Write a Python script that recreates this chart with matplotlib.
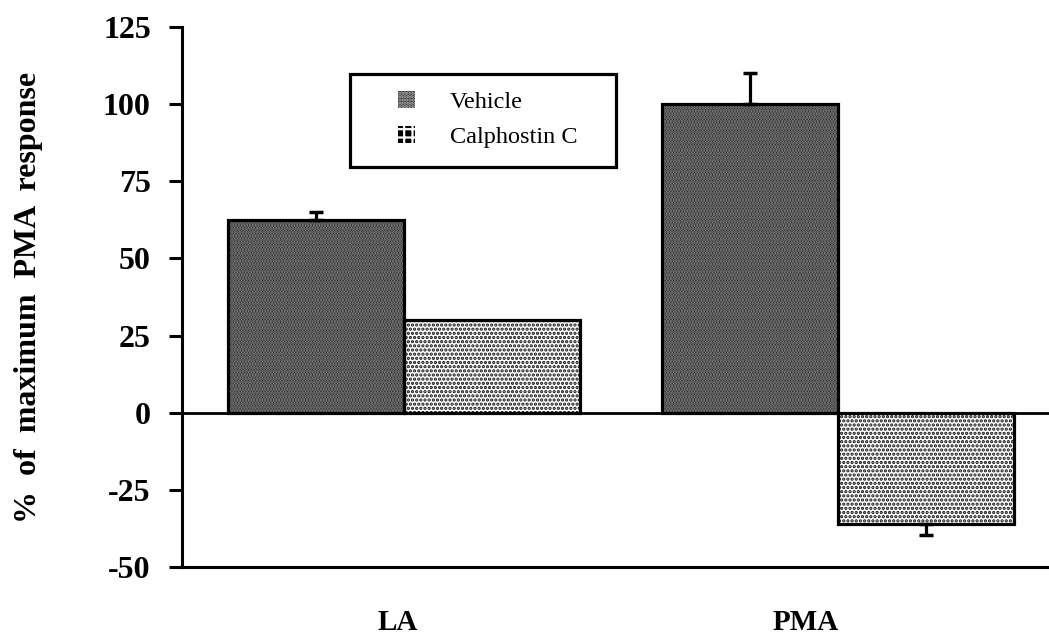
import numpy as np
import matplotlib
matplotlib.use('Agg')
import matplotlib.pyplot as plt
from matplotlib.patches import Patch, Rectangle

plt.rcParams['font.family'] = 'Liberation Serif'
plt.rcParams['axes.unicode_minus'] = False
plt.rcParams['hatch.linewidth'] = 1.6

categories = ['LA', 'PMA']
series = ['Vehicle', 'Calphostin C']
vehicle = [62.5, 100.0]
vehicle_err = [2.5, 10.0]
calphostin = [30.0, -36.0]
calphostin_err = [0.0, 3.5]
label_shift = [-0.015, -0.075]   # category labels sit a bit left of the group centres

fig = plt.figure(figsize=(10.49, 6.32), dpi=100)
ax = fig.add_axes([0.1735, 0.103, 0.8265, 0.854])

x = np.arange(len(categories))
width = 0.405

veh_style = dict(facecolor='#101010', hatch='......', edgecolor='#959595', linewidth=0)
cal_style = dict(facecolor='white', hatch='....', edgecolor='#111111', linewidth=0)

# fill with dotted screen first, black outline on top
ax.bar(x - width / 2, vehicle, width, zorder=2, **veh_style)
ax.bar(x + width / 2, calphostin, width, zorder=2, **cal_style)
ax.bar(x - width / 2, vehicle, width, fill=False, edgecolor='black', linewidth=2.3, zorder=3)
ax.bar(x + width / 2, calphostin, width, fill=False, edgecolor='black', linewidth=2.3, zorder=3)

# one-sided error bars, only where there is one
err_kw = dict(fmt='none', ecolor='black', elinewidth=2.3, capsize=4.7, capthick=2.5, zorder=4)
v_err = np.array(vehicle_err)
c_err = np.array(calphostin_err)
m = v_err > 0
ax.errorbar((x - width / 2)[m], np.array(vehicle)[m], yerr=[np.zeros(m.sum()), v_err[m]], **err_kw)
m = c_err > 0
ax.errorbar((x + width / 2)[m], np.array(calphostin)[m], yerr=[c_err[m], np.zeros(m.sum())], **err_kw)

ax.axhline(0, color='black', linewidth=2, zorder=1)

ax.set_xlim(-0.511, 1.486)
ax.set_ylim(-50, 125)
ax.set_yticks([-50, -25, 0, 25, 50, 75, 100, 125])
ax.set_xticks(x + np.array(label_shift))
ax.set_xticklabels(categories, fontsize=21, fontweight='bold')
ax.tick_params(axis='x', length=0, pad=30)
ax.tick_params(axis='y', direction='out', length=9.5, width=2.2, labelsize=23, pad=13)
for lab in ax.get_yticklabels():
    lab.set_fontweight('bold')

ax.spines['top'].set_visible(False)
ax.spines['right'].set_visible(False)
ax.spines['left'].set_linewidth(2.2)
ax.spines['bottom'].set_linewidth(2.2)

ax.set_ylabel('%  of  maximum  PMA  response', fontsize=23, fontweight='bold')
ax.yaxis.set_label_coords(-0.160, 0.5)

# legend box drawn by hand so the inner padding can differ per side
ax.add_patch(Rectangle((0.194, 0.741), 0.307, 0.172, transform=ax.transAxes,
                       fill=False, edgecolor='black', linewidth=2.3, zorder=5))
handles = [Patch(facecolor='#333333', hatch='.....', edgecolor='#bbbbbb', linewidth=0),
           Patch(facecolor='black', hatch='++', edgecolor='white', linewidth=0)]
ax.legend(handles, series, loc='upper left', bbox_to_anchor=(0.249, 0.882),
          fontsize=17.5, frameon=False, handlelength=0.7, handleheight=0.7,
          handletextpad=1.45, borderpad=0, labelspacing=0.55, borderaxespad=0)

fig.savefig('out.png', dpi=100)
